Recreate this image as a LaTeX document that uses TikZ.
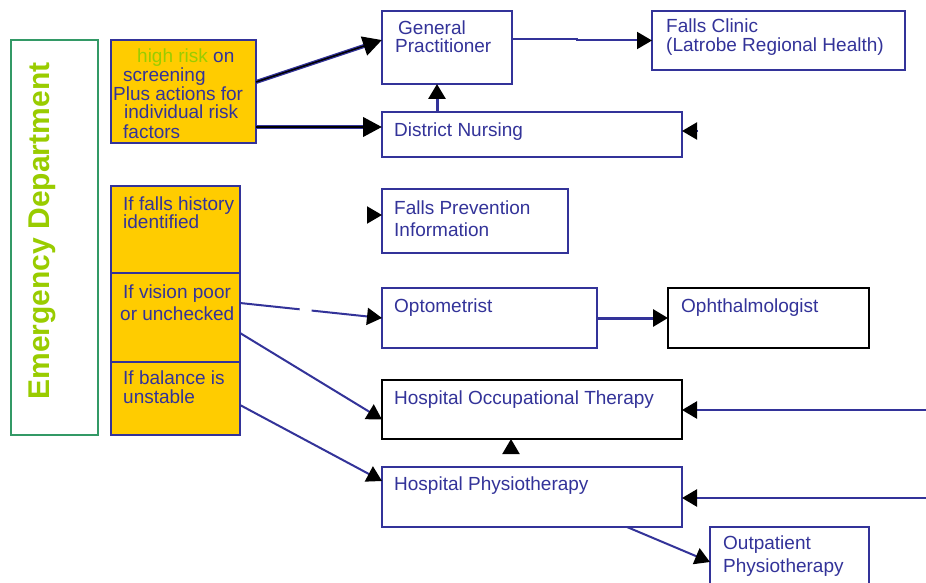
\documentclass[tikz,border=0pt]{standalone}
\usepackage{fontspec}
\setmainfont{Liberation Sans}
\usetikzlibrary{arrows.meta}
\definecolor{navy}{HTML}{333399}
\definecolor{amber}{HTML}{FFCC00}
\definecolor{lime}{HTML}{99CC00}
\definecolor{sea}{HTML}{339966}

\begin{document}
\begin{tikzpicture}[x=1pt,y=-1pt,
  box/.style={draw=navy,line width=2pt,inner sep=0pt,outer sep=0pt,anchor=north west},
  dbox/.style={box,draw=black},
  ybox/.style={box,fill=amber,line width=1.5pt},
  lbl/.style={inner sep=0pt,anchor=base west,text=navy,font=\fontsize{19}{19}\selectfont},
  tip/.style={-{Triangle[length=15pt,width=17pt,color=black,fill=black]}},
  link/.style={draw=navy,line width=2pt,tip},
  heavy/.style={draw=navy,line width=4pt,-{Triangle[length=19pt,width=19pt,color=black,fill=black]},
    postaction={draw=black,line width=1.5pt,-,shorten >=16pt}}
]
\clip (0,0) rectangle (926,583);
\fill[white] (0,0) rectangle (926,583);

% Emergency Department frame
\node[box,draw=sea,line width=1.5pt,minimum width=87pt,minimum height=395pt] (ed) at (11,40) {};
\node[rotate=90,text=lime,inner sep=0pt,font=\fontsize{30}{30}\selectfont\bfseries] (edt) at (42,231) {Emergency Department};

% triage boxes
\node[ybox,minimum width=145pt,minimum height=103pt] (hr) at (111,40) {};
\node[ybox,minimum width=129pt,minimum height=87pt] (fh) at (111,186) {};
\node[ybox,minimum width=129pt,minimum height=89pt] (vp) at (111,273) {};
\node[ybox,minimum width=129pt,minimum height=73pt] (bal) at (111,362) {};

\node[lbl] (hr1) at (137,63) {\textcolor{lime}{high risk} on};
\node[lbl] (hr2) at (123,82) {screening};
\node[lbl] (hr3) at (113,101) {Plus actions for};
\node[lbl] (hr4) at (124,119) {individual risk};
\node[lbl] (hr5) at (123,139) {factors};

\node[lbl] (fh1) at (123,210) {If falls history};
\node[lbl] (fh2) at (123,228) {identified};
\node[lbl] (vp1) at (123,298) {If vision poor};
\node[lbl] (vp2) at (120,320) {or unchecked};
\node[lbl] (bal1) at (123,384) {If balance is};
\node[lbl] (bal2) at (123,403) {unstable};

% services
\node[box,minimum width=130pt,minimum height=73pt] (gp) at (382,11) {};
\node[box,minimum width=253pt,minimum height=59pt] (fc) at (652,11) {};
\node[box,minimum width=300pt,minimum height=45pt] (dn) at (382,112) {};
\node[box,minimum width=186pt,minimum height=64pt] (fpi) at (382,189) {};
\node[box,minimum width=215pt,minimum height=60pt] (opt) at (382,288) {};
\node[dbox,minimum width=201pt,minimum height=60pt] (oph) at (668,288) {};
\node[dbox,minimum width=300pt,minimum height=59pt] (ot) at (382,380) {};
\node[box,minimum width=300pt,minimum height=60pt] (hp) at (382,467) {};
\node[box,minimum width=159pt,minimum height=80pt] (op) at (710,527) {};

\node[lbl] (gp1) at (398,35) {General};
\node[lbl] (gp2) at (395,53) {Practitioner};
\node[lbl] (fc1) at (666,33) {Falls Clinic};
\node[lbl] (fc2) at (666,52) {(Latrobe Regional Health)};
\node[lbl] (dnt) at (394,137) {District Nursing};
\node[lbl] (fpi1) at (394,214) {Falls Prevention};
\node[lbl] (fpi2) at (394,236) {Information};
\node[lbl] (optt) at (394,312) {Optometrist};
\node[lbl] (opht) at (681,312) {Ophthalmologist};
\node[lbl] (ott) at (394,404) {Hospital Occupational Therapy};
\node[lbl] (hpt) at (394,490) {Hospital Physiotherapy};
\node[lbl] (op1) at (723,549) {Outpatient};
\node[lbl] (op2) at (723,572) {Physiotherapy};

% referral paths
\draw[heavy] ([yshift=9.5pt]hr.east) -- ([yshift=7.5pt]gp.west);
\draw[heavy] ([yshift=-35.5pt]hr.east) -- ([yshift=7.5pt]dn.west);
\draw[link,line width=3pt] ([xshift=-10pt]gp.south |- dn.north) -- ([xshift=-10pt]gp.south);
\draw[link] ([yshift=8.5pt]gp.east) -- ++(65,0) |- (fc.west);

\coordinate (dnin) at (698,131);
\draw[link] (dnin) -- (dnin -| dn.east);
\coordinate (fpin) at (367,215);
\draw[link] (fpin) -- (fpin -| fpi.west);

\draw[link,dash pattern=on 60pt off 12pt on 200pt] ([yshift=14.5pt]vp.east) -- (opt.west);
\draw[link] ([yshift=-15.5pt]vp.east) -- ([yshift=-10pt]ot.west);
\draw[link] ([yshift=-6.5pt]bal.east) -- ([yshift=16pt]hp.west);
\draw[link,line width=3pt] (opt.east) -- (oph.west);

\coordinate (hpup) at (511,453);
\draw[link] (hpup) -- (hpup |- ot.south);

\coordinate (otin) at (926,410);
\draw[link,line width=2.5pt] (otin) -- (otin -| ot.east);
\coordinate (hpin) at (926,498);
\draw[link,line width=2.5pt] (hpin) -- (hpin -| hp.east);

\draw[link] ([xshift=95pt]hp.south) -- ([yshift=5pt]op.west);
\end{tikzpicture}
\end{document}
